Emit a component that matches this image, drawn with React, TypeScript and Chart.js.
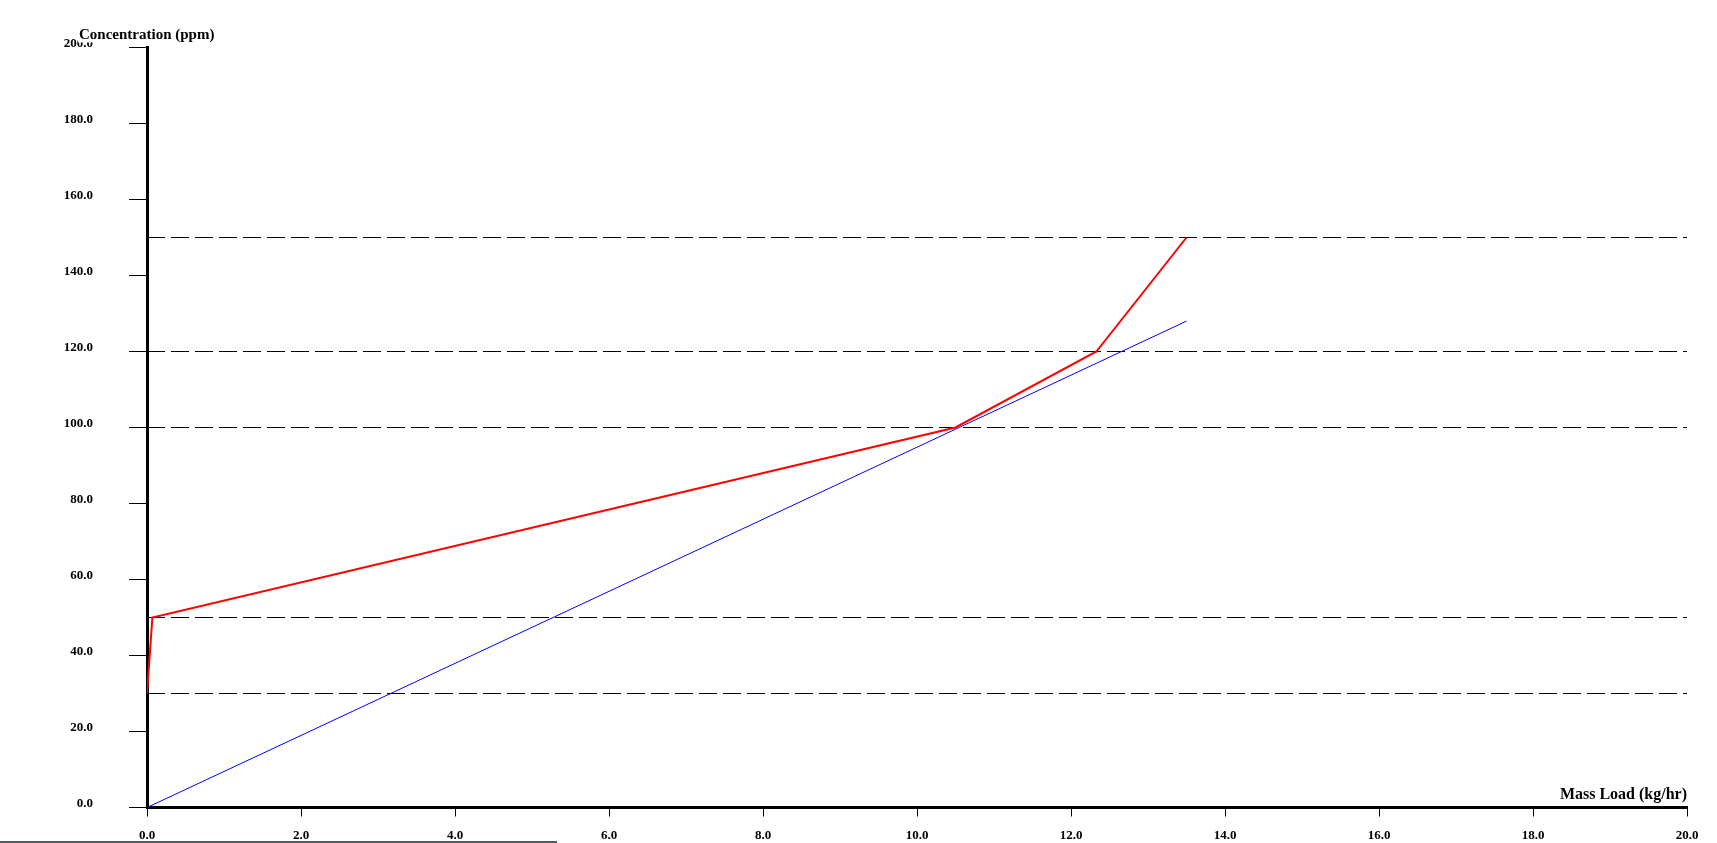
import React, { useEffect, useRef } from "react";
import { Chart, registerables } from "chart.js";

Chart.register(...registerables);

const redX = [0, 0.07, 10.5, 12.33, 13.5];
const redY = [30, 50, 100, 120, 150];
const blueX = [0, 13.5];
const blueY = [0, 128];
const refLevels = [30, 50, 100, 120, 150];
const xMin = 0;
const xMax = 20;
const xStep = 2;
const yMin = 0;
const yMax = 200;
const yStep = 20;
const yTitle = "Concentration (ppm)";
const xTitle = "Mass Load (kg/hr)";

const FONT = "'Liberation Serif', 'Times New Roman', serif";

export default function App() {
  const ref = useRef<HTMLCanvasElement | null>(null);

  useEffect(() => {
    if (!ref.current) return;
    const titles = {
      id: "axisTitles",
      afterDraw(chart: any) {
        const ctx = chart.ctx;
        const ca = chart.chartArea;
        ctx.save();
        ctx.textBaseline = "alphabetic";
        // y title, drawn over a white box (covers top of the 200.0 label)
        ctx.font = `bold 15px ${FONT}`;
        const w = ctx.measureText(yTitle).width;
        const tx = 79;
        const ty = 38.5;
        ctx.fillStyle = "#ffffff";
        ctx.fillRect(tx - 1, ty - 13, w + 2, 17);
        ctx.fillStyle = "#000000";
        ctx.textAlign = "left";
        ctx.fillText(yTitle, tx, ty);
        // x title
        ctx.font = `bold 16px ${FONT}`;
        ctx.textAlign = "right";
        ctx.fillText(xTitle, ca.right, ca.bottom - 9);
        ctx.restore();
      },
    };

    const datasets: any[] = [
      {
        label: "red",
        data: redX.map((x, i) => ({ x, y: redY[i] })),
        borderColor: "#ff0000",
        borderWidth: 2,
        pointRadius: 0,
        showLine: true,
        tension: 0,
        fill: false,
      },
      {
        label: "blue",
        data: blueX.map((x, i) => ({ x, y: blueY[i] })),
        borderColor: "#0000ff",
        borderWidth: 1,
        pointRadius: 0,
        showLine: true,
        tension: 0,
        fill: false,
      },
      ...refLevels.map((lv) => ({
        label: "ref" + lv,
        data: [
          { x: xMin, y: lv },
          { x: xMax, y: lv },
        ],
        borderColor: "#000000",
        borderWidth: 1,
        borderDash: [18, 6],
        pointRadius: 0,
        showLine: true,
        tension: 0,
        fill: false,
      })),
    ];

    const chart = new Chart(ref.current, {
      type: "scatter",
      data: { datasets },
      plugins: [titles],
      options: {
        responsive: false,
        animation: false,
        devicePixelRatio: 1,
        layout: { padding: { top: 47.5, right: 30, left: 0, bottom: 0 } },
        plugins: {
          legend: { display: false },
          tooltip: { enabled: false },
        },
        scales: {
          x: {
            type: "linear",
            min: xMin,
            max: xMax,
            afterFit(scale: any) {
              scale.height = 35.5;
            },
            grid: {
              drawOnChartArea: false,
              drawTicks: true,
              tickLength: 9,
              tickColor: "#000000",
              tickWidth: 1,
            },
            border: { display: true, color: "#000000", width: 3 },
            ticks: {
              stepSize: xStep,
              padding: 11,
              maxRotation: 0,
              autoSkip: false,
              color: "#000000",
              font: { family: FONT, size: 13, weight: "bold" },
              callback: (v: any) => Number(v).toFixed(1),
            },
          },
          y: {
            type: "linear",
            min: yMin,
            max: yMax,
            afterFit(scale: any) {
              scale.width = 147;
              scale.paddingTop = 0;
              scale.paddingBottom = 0;
            },
            grid: {
              drawOnChartArea: false,
              drawTicks: true,
              tickLength: 18,
              tickColor: "#000000",
              tickWidth: 1,
            },
            border: { display: true, color: "#000000", width: 3 },
            ticks: {
              stepSize: yStep,
              padding: 36,
              labelOffset: -4,
              autoSkip: false,
              color: "#000000",
              font: { family: FONT, size: 13, weight: "bold" },
              callback: (v: any) => Number(v).toFixed(1),
            },
          },
        },
      },
    });
    return () => chart.destroy();
  }, []);

  return (
    <div style={{ position: "fixed", left: 0, top: 0, width: 1717, height: 843, background: "#ffffff", overflow: "hidden" }}>
      <canvas ref={ref} width={1717} height={843} style={{ display: "block", width: 1717, height: 843 }} />
      <div style={{ position: "absolute", left: 0, top: 841, width: 557, height: 2, background: "#505a64" }} />
    </div>
  );
}
